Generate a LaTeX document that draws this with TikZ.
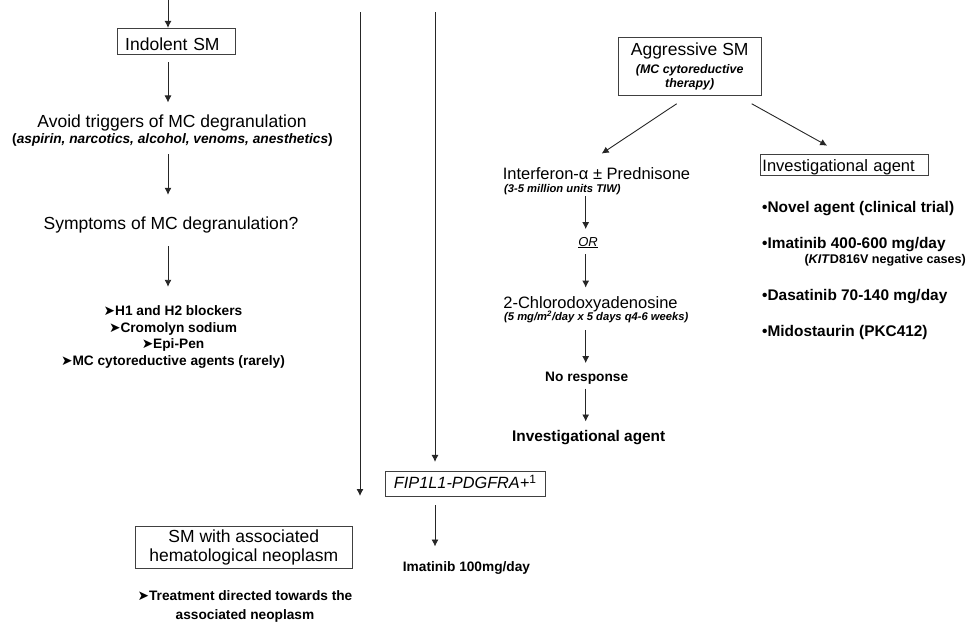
\documentclass[tikz,border=0pt]{standalone}
\usepackage{fontspec}
\setmainfont{Liberation Sans}
\newfontfamily\dejavu{DejaVu Sans}
\usetikzlibrary{arrows.meta}

\newcommand{\pointer}{{\dejavu ➤}}
\newcommand{\notesize}{\bfseries\itshape\fontsize{11.2}{13.3}\selectfont}

\tikzset{
  sqbox/.style={draw=black!75, line width=0.9pt, inner sep=0pt},
  headtxt/.style={inner sep=0pt, anchor=base, text height=13pt, text depth=0pt, font=\fontsize{17.5}{19}\selectfont},
  midtxt/.style={inner sep=0pt, anchor=base, text height=12.5pt, text depth=0pt, font=\fontsize{16.5}{19}\selectfont},
  itemtxt/.style={inner sep=0pt, anchor=base, text height=10pt, text depth=0pt, font=\bfseries\fontsize{13.7}{16}\selectfont},
  listtxt/.style={inner sep=0pt, anchor=base west, text height=11pt, text depth=0pt, font=\bfseries\fontsize{15.4}{18}\selectfont},
  notetxt/.style={inner sep=0pt, anchor=base west, text height=8pt, text depth=0pt, font=\notesize},
  arr/.style={draw=black!85, line width=0.9pt, -{Latex[length=7pt,width=7pt]}},
}

\begin{document}
\begin{tikzpicture}[x=1pt,y=-1pt]
\useasboundingbox (0,0) rectangle (967,623);
\coordinate (lcol) at (168,0);
\coordinate (rcol) at (585.7,0);
\coordinate (line1top) at (360,12.3);
\coordinate (line1end) at (360,496);
\coordinate (line2top) at (435,12.3);

% indolent branch
\node[sqbox, text width=102pt, inner xsep=8pt, align=left, text height=21.7pt, text depth=4pt, font=\fontsize{17.5}{19}\selectfont] (indolent) at (176.2,41.2) {Indolent SM};
\node[headtxt] (avoid) at (172,127.5) {Avoid triggers of MC degranulation};
\node[itemtxt] (avoidnote) at (172.5,144) {(\textit{aspirin, narcotics, alcohol, venoms, anesthetics})};
\node[headtxt] (symptoms) at (171,229.5) {Symptoms of MC degranulation?};
\path (173,315) node[itemtxt](blk1){\pointer H1 and H2 blockers}
      (173,332) node[itemtxt](blk2){\pointer Cromolyn sodium}
      (173,348.5) node[itemtxt](blk3){\pointer Epi-Pen}
      (173,365.5) node[itemtxt](blk4){\pointer MC cytoreductive agents (rarely)};

% associated neoplasm
\node[sqbox, align=center, minimum width=217.7pt, minimum height=42.3pt, font=\fontsize{17.5}{19}\selectfont] (assoc) at (243.8,547.2) {SM with associated\\hematological neoplasm};
\node[itemtxt] (treat1) at (245,600) {\pointer Treatment directed towards the};
\node[itemtxt] (treat2) at (245,619) {associated neoplasm};

% FIP1L1 branch
\node[sqbox, minimum width=160pt, text height=16.3pt, text depth=8.7pt, font=\fontsize{16.3}{18}\selectfont] (fip) at (465,484.2) {\textit{FIP1L1-PDGFRA+}{\fontsize{12}{14}\selectfont\raisebox{5pt}{1}}};
\node[itemtxt] (imat100) at (466.5,571.7) {Imatinib 100mg/day};

% aggressive branch
\node[sqbox, align=center, minimum width=142.7pt, minimum height=58.4pt, font=\fontsize{17.5}{19}\selectfont] (aggr) at (689.7,66.5) {Aggressive SM\\[-1pt]\bfseries\itshape\fontsize{12.4}{13.3}\selectfont (MC cytoreductive\\[-5pt]\bfseries\itshape\fontsize{12.4}{13.3}\selectfont therapy)};
\node[midtxt] (ifn) at (596.5,179) {Interferon-α ± Prednisone};
\node[notetxt] (ifnnote) at (504,192.3) {(3-5 million units TIW)};
\node[inner sep=0pt, anchor=base, text height=10pt, text depth=0pt, font=\fontsize{13}{15}\selectfont] (or) at (588,246) {\underline{\textit{OR}}};
\node[midtxt] (chloro) at (590.5,308.3) {2-Chlorodoxyadenosine};
\node[notetxt] (chloronote) at (504,320.7) {(5 mg/m\textsuperscript{2}/day x 5 days q4-6 weeks)};
\node[itemtxt] (noresp) at (586.7,381.7) {No response};
\node[listtxt, anchor=base] (invag2) at (588.7,441.7) {Investigational agent};

\node[sqbox, anchor=north west, text width=164pt, inner xsep=2pt, text height=16.7pt, text depth=4.6pt, font=\fontsize{16.5}{19}\selectfont] (invbox) at (760,154) {Investigational agent};
\node[listtxt] (novel) at (762,212) {•Novel agent (clinical trial)};
\node[listtxt] (imat) at (762,248.3) {•Imatinib 400-600 mg/day};
\node[itemtxt, anchor=base east, font=\bfseries\fontsize{12.6}{15}\selectfont] (kit) at (966,263.3) {(\textit{KIT}D816V negative cases)};
\node[listtxt] (dasat) at (762,300) {•Dasatinib 70-140 mg/day};
\node[listtxt] (midos) at (762,336.7) {•Midostaurin (PKC412)};

% arrows
\draw[arr] (lcol) -- (indolent.north -| lcol);
\draw[arr, shorten <=8pt, shorten >=11.8pt] (indolent.south -| lcol) -- (avoid.north -| lcol);
\draw[arr, shorten <=10pt, shorten >=21.5pt] (avoidnote.south -| lcol) -- (symptoms.north -| lcol);
\draw[arr, shorten <=16.5pt, shorten >=18pt] (symptoms.south -| lcol) -- (blk1.north -| lcol);
\draw[arr] (line1top) -- (line1end);
\draw[arr, shorten >=9.3pt] (line2top) -- (fip.north -| line2top);
\draw[arr, shorten <=8.3pt, shorten >=15pt] (fip.south -| line2top) -- (imat100.north -| line2top);
\draw[arr] ([xshift=-13pt,yshift=-7.6pt]aggr.south) -- ([xshift=5.2pt,yshift=12.7pt]ifn.north);
\draw[arr] ([xshift=62pt,yshift=-7.6pt]aggr.south) -- ([xshift=-17.3pt,yshift=8.3pt]invbox.north);
\draw[arr, shorten <=3.7pt, shorten >=6.7pt] (ifnnote.south -| rcol) -- (or.north -| rcol);
\draw[arr, shorten <=8pt, shorten >=8pt] (or.south -| rcol) -- (chloro.north -| rcol);
\draw[arr, shorten <=9.3pt, shorten >=8.4pt] (chloronote.south -| rcol) -- (noresp.north -| rcol);
\draw[arr, shorten <=6.6pt, shorten >=9pt] (noresp.south -| rcol) -- (invag2.north -| rcol);
\end{tikzpicture}
\end{document}
